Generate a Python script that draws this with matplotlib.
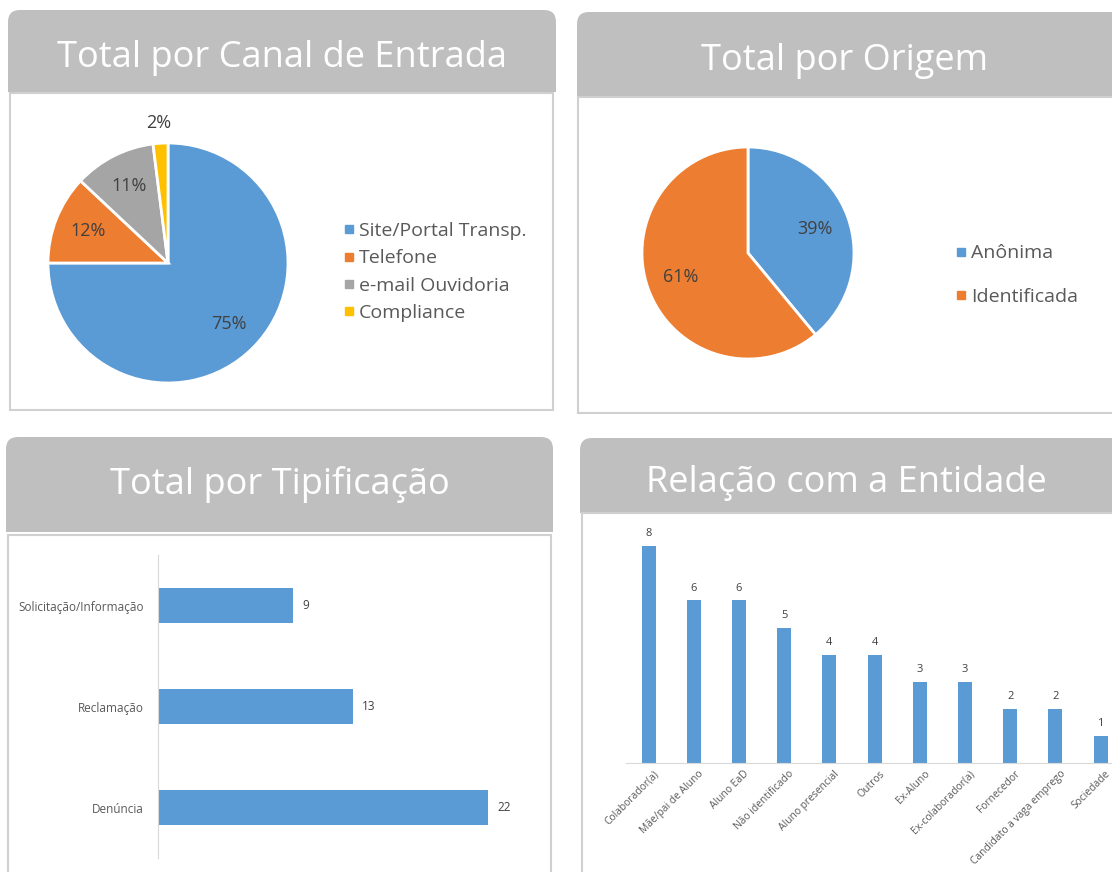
import numpy as np
import matplotlib.pyplot as plt
from matplotlib.patches import FancyBboxPatch, Rectangle
from matplotlib.lines import Line2D

# data
canal_labels = ['Site/Portal Transp.', 'Telefone', 'e-mail Ouvidoria', 'Compliance']
canal_pct = [75, 12, 11, 2]

origem_labels = ['Anônima', 'Identificada']
origem_pct = [39, 61]

tipo_labels = ['Denúncia', 'Reclamação', 'Solicitação/Informação']
tipo_values = [22, 13, 9]

rel_labels = ['Colaborador(a)', 'Mãe/pai de Aluno', 'Aluno EaD', 'Não identificado',
              'Aluno presencial', 'Outros', 'Ex-Aluno', 'Ex-colaborador(a)',
              'Fornecedor', 'Candidato a vaga emprego', 'Sociedade']
rel_values = [8, 6, 6, 5, 4, 4, 3, 3, 2, 2, 1]

blue = '#5B9BD5'
orange = '#ED7D31'
grey = '#A5A5A5'
yellow = '#FFC000'
header = '#BFBFBF'
txt = '#595959'

plt.rcParams['font.family'] = ['Open Sans', 'DejaVu Sans']

W, H = 1112, 872
fig = plt.figure(figsize=(W / 100, H / 100), dpi=100)


def box(x0, y0, x1, y1):
    # pixel box (top-left origin) -> figure fraction
    return [x0 / W, 1 - y1 / H, (x1 - x0) / W, (y1 - y0) / H]


bg = fig.add_axes([0, 0, 1, 1])
bg.set_xlim(0, W)
bg.set_ylim(H, 0)
bg.axis('off')


def panel(hx0, hy0, hx1, hy1, bx0, by0, bx1, by1, title, ty):
    bg.add_patch(FancyBboxPatch((hx0, hy0), hx1 - hx0, hy1 - hy0,
                                boxstyle='round,pad=0,rounding_size=12',
                                fc=header, ec='none'))
    bg.add_patch(Rectangle((hx0, (hy0 + hy1) / 2), hx1 - hx0, (hy1 - hy0) / 2,
                           fc=header, ec='none'))
    bg.add_patch(Rectangle((bx0, by0), bx1 - bx0, by1 - by0,
                           fc='white', ec='#D0D0D0', lw=1.5))
    bg.text((hx0 + min(hx1, W)) / 2, ty, title, color='white', fontsize=26,
            ha='center', va='center')


panel(8, 10, 556, 92, 10, 93, 553, 410, 'Total por Canal de Entrada', 58)
panel(577, 12, 1125, 97, 578, 97, 1125, 413, 'Total por Origem', 61)
panel(6, 437, 553, 532, 8, 535, 551, 880, 'Total por Tipificação', 484)
panel(580, 438, 1125, 513, 582, 513, 1125, 880, 'Relação com a Entidade', 483)

# pie 1
ax1 = fig.add_axes(box(168 - 120, 263 - 120, 168 + 120, 263 + 120))
wedges, _, autotexts = ax1.pie(canal_pct, colors=[blue, orange, grey, yellow],
                               startangle=90, counterclock=False,
                               autopct='%.0f%%', pctdistance=0.72,
                               wedgeprops=dict(edgecolor='white', linewidth=2),
                               textprops=dict(color='#404040', fontsize=13))
w = wedges[-1]
ang = np.deg2rad((w.theta1 + w.theta2) / 2)
autotexts[-1].set_position((1.17 * np.cos(ang), 1.17 * np.sin(ang)))
ax1.set_xlim(-1, 1)
ax1.set_ylim(-1, 1)

handles = [Line2D([], [], marker='s', ls='none', color=c, markersize=6)
           for c in [blue, orange, grey, yellow]]
fig.legend(handles, canal_labels, loc='center left',
           bbox_to_anchor=(322 / W, 1 - 272 / H), frameon=False,
           fontsize=14, labelcolor=txt, handletextpad=0.0, labelspacing=0.48,
           handlelength=1.0)

# pie 2
ax2 = fig.add_axes(box(748 - 106, 253 - 106, 748 + 106, 253 + 106))
wedges2, _, autotexts2 = ax2.pie(origem_pct, colors=[blue, orange],
                                 startangle=90, counterclock=False,
                                 autopct='%.0f%%', pctdistance=0.67,
                                 wedgeprops=dict(edgecolor='white', linewidth=2),
                                 textprops=dict(color='#404040', fontsize=13))
ax2.set_xlim(-1, 1)
ax2.set_ylim(-1, 1)

handles2 = [Line2D([], [], marker='s', ls='none', color=c, markersize=6)
            for c in [blue, orange]]
fig.legend(handles2, origem_labels, loc='center left',
           bbox_to_anchor=(934 / W, 1 - 275 / H), frameon=False,
           fontsize=14, labelcolor=txt, handletextpad=0.0, labelspacing=1.3,
           handlelength=1.0)

# horizontal bars
ax3 = fig.add_axes(box(158, 555, 530, 858))
y3 = np.arange(len(tipo_labels))
ax3.barh(y3, tipo_values, height=0.35, color=blue)
for yy, v in zip(y3, tipo_values):
    ax3.text(v + 0.6, yy, str(v), va='center', ha='left', fontsize=8.5, color='#404040')
ax3.set_xlim(0, 24.8)
ax3.set_ylim(-0.5, 2.5)
ax3.set_yticks(y3, tipo_labels)
ax3.set_xticks([])
ax3.tick_params(axis='y', length=0, pad=10, labelsize=8.5, labelcolor=txt)
for s in ['top', 'right', 'bottom']:
    ax3.spines[s].set_visible(False)
ax3.spines['left'].set_color('#D9D9D9')
ax3.patch.set_alpha(0)

# vertical bars
ax4 = fig.add_axes(box(626, 763 - 9 * 27.1, 626 + 11 * 45.2, 763))
x4 = np.arange(len(rel_labels))
ax4.bar(x4, rel_values, width=0.31, color=blue)
for xx, v in zip(x4, rel_values):
    ax4.text(xx, v + 0.25, str(v), ha='center', va='bottom', fontsize=8, color='#404040')
ax4.set_xlim(-0.5, 10.5)
ax4.set_ylim(0, 9)
ax4.set_yticks([])
ax4.set_xticks(x4 + 0.1, rel_labels, rotation=45, ha='right', rotation_mode='anchor')
ax4.tick_params(axis='x', length=0, pad=4, labelsize=7.4, labelcolor=txt)
for s in ['top', 'right', 'left']:
    ax4.spines[s].set_visible(False)
ax4.spines['bottom'].set_color('#D9D9D9')
ax4.patch.set_alpha(0)

fig.savefig('out.png', dpi=100)
